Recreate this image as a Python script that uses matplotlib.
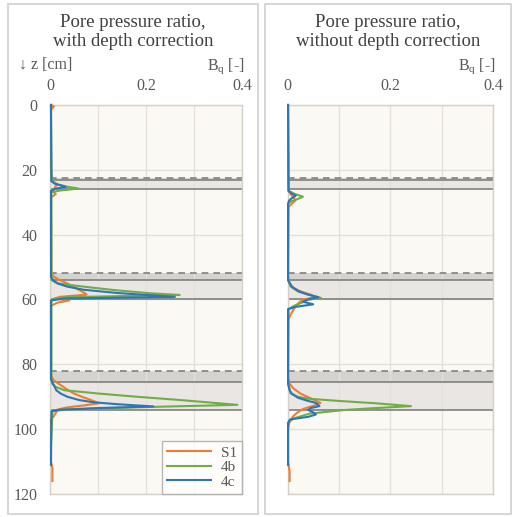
import matplotlib
matplotlib.use("Agg")
import matplotlib.pyplot as plt
from matplotlib.patches import Rectangle

plt.rcParams['font.family'] = ['Liberation Serif', 'DejaVu Serif']
plt.rcParams['mathtext.fontset'] = 'custom'
plt.rcParams['mathtext.rm'] = 'Liberation Serif'

# layer boundaries [cm]
dashed_z = [22.4, 51.8, 82.2]
top_z = [23.3, 54.0, 85.5]
bottom_z = [26.0, 59.8, 94.0]

# ---- with depth correction ----
s1_corr_z = [0, 0.5, 1.5, 20, 23.5, 24.5, 25.5, 26.5, 27.5, 28.5, 52, 53, 54, 55, 56, 57, 58, 58.5,
             59.2, 59.7, 60.3, 61, 62, 83.5, 85, 86, 87, 88, 89, 90, 91, 92, 92.7, 93.3, 94, 95,
             96, 97, 110, 112, 116]
s1_corr_b = [0.003, 0.008, 0.002, 0.002, 0.005, 0.015, 0.01, 0.006, 0.012, 0.002, 0.003, 0.008,
             0.02, 0.035, 0.048, 0.06, 0.072, 0.076, 0.02, 0.01, 0.04, 0.015, 0.002, 0.002, 0.008,
             0.018, 0.028, 0.038, 0.05, 0.066, 0.085, 0.102, 0.07, 0.035, 0.015, 0.012, 0.008,
             0.002, 0.002, 0.005, 0.005]
b4_corr_z = [0, 23.5, 24.5, 25.2, 25.8, 26.4, 27, 54, 55, 55.5, 56.3, 57.2, 58.1, 58.6, 59.3, 59.8,
             60.5, 85, 86, 87, 88, 89, 90, 91, 92, 92.5, 93, 93.5, 94, 94.5, 105]
b4_corr_b = [0.002, 0.003, 0.015, 0.035, 0.06, 0.02, 0.003, 0.003, 0.015, 0.04, 0.085, 0.14, 0.21,
             0.27, 0.03, 0.008, 0.003, 0.003, 0.005, 0.012, 0.03, 0.1, 0.18, 0.27, 0.35, 0.39,
             0.25, 0.12, 0.03, 0.005, 0.002]
c4_corr_z = [0, 23.5, 24.3, 24.9, 25.3, 25.8, 26.5, 53, 54, 55, 56, 57, 58, 58.6, 59.2, 59.7, 60.3,
             84.5, 86, 87, 88, 89, 90, 91, 91.7, 92.3, 93, 93.5, 94, 94.5, 111]
c4_corr_b = [0.002, 0.003, 0.01, 0.025, 0.033, 0.012, 0.002, 0.002, 0.006, 0.015, 0.035, 0.07,
             0.14, 0.2, 0.26, 0.03, 0.002, 0.002, 0.006, 0.01, 0.013, 0.022, 0.036, 0.06, 0.09,
             0.14, 0.215, 0.1, 0.02, 0.003, 0.002]

# ---- without depth correction ----
s1_raw_z = [0, 20, 26.5, 27.5, 28.5, 29.5, 30.5, 31.5, 53, 55, 56.5, 57.5, 58.5, 59.3, 60, 61, 62,
            63.5, 65, 66.5, 84, 86, 87.5, 89, 90.5, 91.9, 92.8, 93.8, 95, 96.2, 97.5, 99, 110,
            113, 116]
s1_raw_b = [0.001, 0.001, 0.002, 0.006, 0.012, 0.015, 0.008, 0.002, 0.001, 0.004, 0.012, 0.025,
            0.045, 0.055, 0.03, 0.022, 0.016, 0.01, 0.005, 0.001, 0.001, 0.004, 0.012, 0.025,
            0.045, 0.064, 0.05, 0.03, 0.018, 0.01, 0.005, 0.001, 0.001, 0.004, 0.004]
b4_raw_z = [0, 26.5, 27.5, 28.3, 29, 29.8, 30.5, 54, 56, 57.5, 58.5, 59.5, 60.2, 61, 62, 63, 85.5,
            87, 89, 90, 90.6, 91.3, 92, 92.9, 93.6, 94.1, 95.2, 96.7, 97.7, 100]
b4_raw_b = [0.001, 0.002, 0.015, 0.03, 0.02, 0.006, 0.001, 0.001, 0.006, 0.02, 0.04, 0.065,
            0.035, 0.028, 0.012, 0.002, 0.001, 0.003, 0.006, 0.02, 0.04, 0.1, 0.17, 0.24, 0.16,
            0.11, 0.043, 0.012, 0.003, 0.001]
c4_raw_z = [0, 26.5, 27.3, 28, 28.8, 29.5, 30.5, 54, 56, 57.5, 58.5, 59.3, 60, 60.7, 61.5, 62.3,
            63, 86, 88, 89, 90.3, 91.2, 91.9, 92.9, 93.5, 94.1, 94.8, 95.5, 96.2, 97, 98, 111]
c4_raw_b = [0.001, 0.002, 0.008, 0.016, 0.008, 0.003, 0.001, 0.001, 0.008, 0.022, 0.04, 0.06,
            0.04, 0.03, 0.05, 0.015, 0.001, 0.001, 0.004, 0.008, 0.02, 0.038, 0.055, 0.062,
            0.045, 0.04, 0.05, 0.055, 0.04, 0.005, 0.001, 0.001]

series_labels = ["S1", "4b", "4c"]
colors = ["#ED7D31", "#70AD47", "#2E75B6"]
titles = ["Pore pressure ratio,\nwith depth correction",
          "Pore pressure ratio,\nwithout depth correction"]
x_ticks = [0, 0.1, 0.2, 0.3, 0.4]
x_ticklabels = ["0", "", "0.2", "", "0.4"]
y_ticks = [0, 20, 40, 60, 80, 100, 120]

panels = [
    [(s1_corr_z, s1_corr_b), (b4_corr_z, b4_corr_b), (c4_corr_z, c4_corr_b)],
    [(s1_raw_z, s1_raw_b), (b4_raw_z, b4_raw_b), (c4_raw_z, c4_raw_b)],
]

fig = plt.figure(figsize=(5.13, 5.17), dpi=100)

# panel frames
for x0, w in [(0.0156, 0.487), (0.5166, 0.4795)]:
    fig.patches.append(Rectangle((x0, 0.006), w, 0.986, transform=fig.transFigure,
                                 fill=False, edgecolor="#D0D0D0", lw=1.2))

axes_pos = [[0.0975, 0.0445, 0.3745, 0.7525], [0.5605, 0.0445, 0.401, 0.7525]]
frame_cx = [0.259, 0.756]
tick_col = "#595959"

for i, (ax_rect, data) in enumerate(zip(axes_pos, panels)):
    ax = fig.add_axes(ax_rect)
    ax.set_facecolor("#FBF9F4")
    ax.set_xlim(0, 0.4)
    ax.set_ylim(120, 0)
    ax.set_axisbelow(True)
    ax.set_xticks(x_ticks)
    ax.set_xticklabels(x_ticklabels)
    ax.set_yticks(y_ticks)
    ax.xaxis.tick_top()
    ax.tick_params(length=0, colors=tick_col, labelsize=11.5)
    ax.tick_params(axis="x", pad=8)
    ax.tick_params(axis="y", pad=9)
    if i == 1:
        ax.set_yticklabels([])
    ax.grid(True, color="#E4E0DA", lw=1.0)
    for sp in ax.spines.values():
        sp.set_color("#D4D0CA")
        sp.set_linewidth(1.0)

    for d, t, b in zip(dashed_z, top_z, bottom_z):
        ax.axhspan(d, t, color="#D6D2CF", lw=0, zorder=0.2)
        ax.axhspan(t, b, color="#E9E6E3", lw=0, zorder=0.2)
        ax.axhline(d, color="#808080", lw=1.2, ls=(0, (4, 3)), zorder=1.5)
        ax.axhline(t, color="#808080", lw=1.2, zorder=1.5)
        ax.axhline(b, color="#808080", lw=1.2, zorder=1.5)

    for (z, bq), lab, col in zip(data, series_labels, colors):
        ax.plot(bq, z, color=col, lw=1.5, label=lab, zorder=3, clip_on=False)

    if i == 0:
        leg = ax.legend(loc="lower right", borderaxespad=0, fancybox=False,
                        fontsize=11, handlelength=2.9, labelspacing=0.05,
                        borderpad=0.35, handletextpad=0.6, labelcolor=tick_col)
        leg.get_frame().set_edgecolor("#A6A6A6")
        leg.get_frame().set_linewidth(1.0)
        fig.text(0.037, 0.866, "\u2193 z [cm]", color=tick_col, fontsize=11.5, va="baseline")

    x_right = ax_rect[0] + ax_rect[2] + 0.004
    fig.text(x_right, 0.866, r"B$_\mathregular{q}$ [-]", color=tick_col, fontsize=11.5,
             ha="right", va="baseline")
    fig.text(frame_cx[i], 0.939, titles[i], color="#404040", fontsize=13.5,
             ha="center", va="center", linespacing=1.15)

fig.savefig("out.png", dpi=100)
